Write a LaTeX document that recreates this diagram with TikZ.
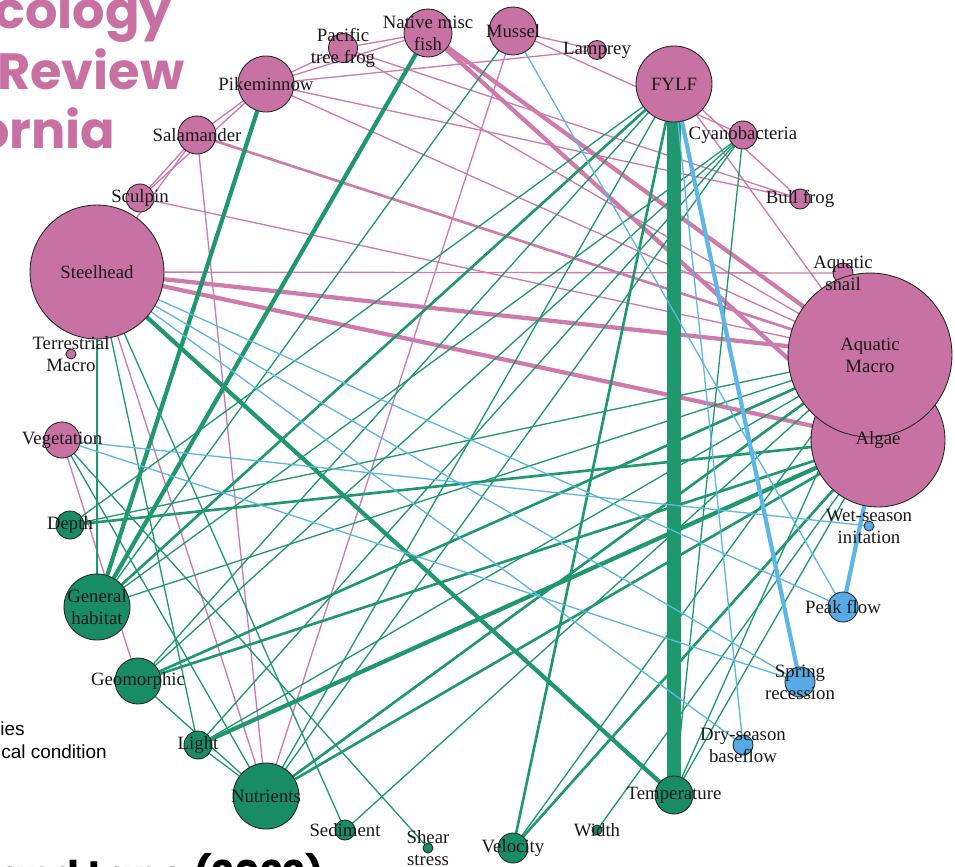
\documentclass[tikz,border=0pt]{standalone}
\usepackage{fontspec}
\setmainfont{Liberation Serif}
\newfontfamily\headfont{Poppins}
\newfontfamily\legfont{Liberation Sans}
\usetikzlibrary{backgrounds}

\definecolor{spink}{RGB}{200,114,164}
\definecolor{epink}{RGB}{206,122,172}
\definecolor{sgreen}{RGB}{24,140,100}
\definecolor{egreen}{RGB}{30,152,108}
\definecolor{sblue}{RGB}{88,170,228}
\definecolor{eblue}{RGB}{92,182,232}
\definecolor{headpink}{RGB}{201,112,163}

\tikzset{
  vtx/.style={circle, draw=black!85, line width=0.5pt, inner sep=0pt, minimum size=#1*0.04cm},
  sp/.style={vtx=#1, fill=spink},
  ph/.style={vtx=#1, fill=sgreen},
  fl/.style={vtx=#1, fill=sblue},
  lab/.style={align=center, inner sep=0pt, text=black!90},
  pE/.style={draw=epink, line width=#1},
  gE/.style={draw=egreen, line width=#1},
  bE/.style={draw=eblue, line width=#1},
  head/.style={anchor=base west, inner sep=0pt, text=headpink, font=\headfont\bfseries\fontsize{29}{30}\selectfont},
}

\begin{document}
\begin{tikzpicture}[x=0.02cm, y=-0.02cm, font=\fontsize{10.7}{12.5}\selectfont]
\useasboundingbox (0,0) rectangle (955,866);

% page text behind the network
\node[head] (t1) at (-6,28) {cology};
\node[head] (t2) at (-3,89) {Review};
\node[head] (t3) at (-23,148) {ornia};
\node[anchor=base west, inner sep=0pt, font=\legfont\fontsize{10.8}{12}\selectfont] (l1) at (0,735) {ies};
\node[anchor=base west, inner sep=0pt, font=\legfont\fontsize{10.8}{12}\selectfont] (l2) at (1,758) {cal condition};
\node[anchor=base west, inner sep=0pt, font=\headfont\bfseries\fontsize{22.5}{23}\selectfont] (ref) at (-1,889) {and Lane (2022)};

% species
\node[sp=24] (nat) at (428,33) {};
\node[sp=14.5] (pac) at (343,48) {};
\node[sp=24] (mus) at (513,31) {};
\node[sp=9.5] (lam) at (597,50) {};
\node[sp=38] (fylf) at (674,84) {};
\node[sp=14] (cya) at (743,135) {};
\node[sp=10] (bull) at (800,199) {};
\node[sp=10] (snail) at (843,273) {};
\node[sp=67] (alg) at (878,440) {};
\node[sp=82] (amac) at (870,355) {};
\node[sp=67] (steel) at (97,272) {};
\node[sp=14] (scul) at (140,198) {};
\node[sp=19] (sal) at (197,135) {};
\node[sp=28] (pike) at (266,84) {};
\node[sp=5] (terr) at (71,354) {};
\node[sp=18] (veg) at (62,440) {};
% flow
\node[fl=5] (wet) at (869,526) {};
\node[fl=15] (peak) at (843,607) {};
\node[fl=15] (spr) at (800,682) {};
\node[fl=10] (dry) at (743,745) {};
% physical condition
\node[ph=19] (temp) at (674,795) {};
\node[ph=5] (wid) at (597,830) {};
\node[ph=15] (vel) at (513,848) {};
\node[ph=5] (shear) at (428,848) {};
\node[ph=10] (sed) at (345,830) {};
\node[ph=33] (nut) at (266,796) {};
\node[ph=14] (light) at (198,745) {};
\node[ph=23] (geo) at (138,681) {};
\node[ph=33] (gen) at (97,607) {};
\node[ph=14] (dep) at (70,525) {};

\begin{pgfonlayer}{background}
% species links
\foreach \a/\b in {pike/pac,pike/nat,pike/lam,pike/bull,pike/sal,pike/amac,pac/nat,pac/amac,pac/bull,
  mus/lam,mus/nut,mus/cya,fylf/bull,fylf/amac,scul/amac,scul/sal,scul/pike,steel/sal,
  steel/snail,steel/nut,sal/nut,veg/geo}
  \draw[pE=0.75pt] (\a.center) -- (\b.center);
\draw[pE=1.5pt] (sal.center) -- (amac.center);
\foreach \a/\b in {steel/amac,steel/alg,nat/amac,nat/alg}
  \draw[pE=2.4pt] (\a.center) -- (\b.center);
% physical condition links
\foreach \a/\b in {mus/gen,fylf/dep,fylf/geo,cya/gen,cya/geo,cya/light,cya/nut,light/nut,geo/nut,
  gen/amac,dep/amac,nut/fylf,sed/amac,sed/steel,shear/veg,wid/alg,vel/amac,temp/amac,
  temp/alg,temp/cya,steel/light,light/amac,veg/nut}
  \draw[gE=0.75pt] (\a.center) -- (\b.center);
\foreach \a/\b in {steel/gen,vel/fylf,vel/alg,nut/alg,nut/amac,geo/amac,geo/alg,dep/alg,fylf/gen}
  \draw[gE=1.5pt] (\a.center) -- (\b.center);
\foreach \a/\b in {pike/gen,nat/gen,steel/temp,light/alg}
  \draw[gE=2.4pt] (\a.center) -- (\b.center);
\draw[gE=8pt] (fylf.center) -- (temp.center);
% flow links
\foreach \a/\b in {mus/peak,fylf/dry,steel/peak,steel/spr,steel/dry,veg/wet,veg/spr}
  \draw[bE=0.75pt] (\a.center) -- (\b.center);
\foreach \a/\b in {fylf/spr,alg/peak}
  \draw[bE=2.4pt] (\a.center) -- (\b.center);
\end{pgfonlayer}

% labels
\node[lab] (nat-l) at (nat) {Native misc\\fish};
\node[lab] (pac-l) at (pac) {Pacific\\tree frog};
\node[lab] (mus-l) at (mus) {Mussel};
\node[lab] (lam-l) at (lam) {Lamprey};
\node[lab] (fylf-l) at (fylf) {FYLF};
\node[lab] (cya-l) at (cya) {Cyanobacteria};
\node[lab] (bull-l) at (bull) {Bull frog};
\node[lab] (snail-l) at (snail) {Aquatic\\snail};
\node[lab] (amac-l) at (amac) {Aquatic\\Macro};
\node[lab] (alg-l) at (alg) {Algae};
\node[lab] (steel-l) at (steel) {Steelhead};
\node[lab] (scul-l) at (scul) {Sculpin};
\node[lab] (sal-l) at (sal) {Salamander};
\node[lab] (pike-l) at (pike) {Pikeminnow};
\node[lab] (terr-l) at (terr) {Terrestrial\\Macro};
\node[lab] (veg-l) at (veg) {Vegetation};
\node[lab] (wet-l) at (wet) {Wet-season\\initation};
\node[lab] (peak-l) at (peak) {Peak flow};
\node[lab] (spr-l) at (spr) {Spring\\recession};
\node[lab] (dry-l) at (dry) {Dry-season\\baseflow};
\node[lab] (temp-l) at (temp) {Temperature};
\node[lab] (wid-l) at (wid) {Width};
\node[lab] (vel-l) at (vel) {Velocity};
\node[lab] (shear-l) at (shear) {Shear\\stress};
\node[lab] (sed-l) at (sed) {Sediment};
\node[lab] (nut-l) at (nut) {Nutrients};
\node[lab] (light-l) at (light) {Light};
\node[lab] (geo-l) at (geo) {Geomorphic};
\node[lab] (gen-l) at (gen) {General\\habitat};
\node[lab] (dep-l) at (dep) {Depth};
\end{tikzpicture}
\end{document}
